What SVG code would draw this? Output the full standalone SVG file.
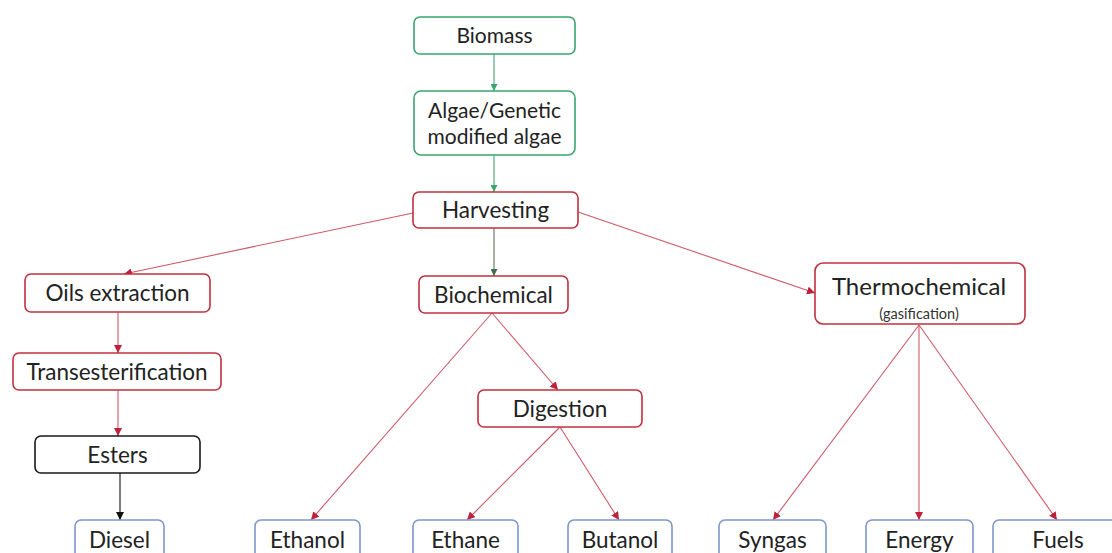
<svg xmlns="http://www.w3.org/2000/svg" width="1112" height="553" viewBox="0 0 1112 553">
<defs>
<style>
.box{fill:#ffffff;stroke-width:1.6}
.g{stroke:#3aa56f}
.r{stroke:#c0303f}
.k{stroke:#1a1a1a}
.b{stroke:#7f97cc}
.t{font-family:Lato,"Liberation Sans",sans-serif;font-size:22.5px;fill:#222;text-anchor:middle}
.s{font-family:Lato,"Liberation Sans",sans-serif;font-size:14.5px;fill:#333;text-anchor:middle}
.cg{stroke:#4fae80;stroke-width:1.2;fill:none;marker-end:url(#ag)}
.cr{stroke:#cf5a68;stroke-width:1.1;fill:none;marker-end:url(#ar)}
.cd{stroke:#6f7d70;stroke-width:1.2;fill:none;marker-end:url(#ad)}
.ck{stroke:#111;stroke-width:1.1;fill:none;marker-end:url(#ak)}
</style>
<marker id="ag" viewBox="0 0 10 10" refX="10" refY="5" markerWidth="7" markerHeight="7" markerUnits="userSpaceOnUse" orient="auto"><path d="M0,0L10,5L0,10z" fill="#3aa56f"/></marker>
<marker id="ar" viewBox="0 0 10 10" refX="10" refY="5" markerWidth="8" markerHeight="8" markerUnits="userSpaceOnUse" orient="auto"><path d="M0,0L10,5L0,10z" fill="#c0203a"/></marker>
<marker id="ad" viewBox="0 0 10 10" refX="10" refY="5" markerWidth="7" markerHeight="7" markerUnits="userSpaceOnUse" orient="auto"><path d="M0,0L10,5L0,10z" fill="#3f6e52"/></marker>
<marker id="ak" viewBox="0 0 10 10" refX="10" refY="5" markerWidth="8" markerHeight="8" markerUnits="userSpaceOnUse" orient="auto"><path d="M0,0L10,5L0,10z" fill="#111"/></marker>
</defs>
<rect width="1112" height="553" fill="#ffffff"/>
<g id="connectors">
<line class="cg" x1="494" y1="54" x2="494" y2="91"/>
<line class="cg" x1="494" y1="155" x2="494" y2="192"/>
<line class="cr" x1="413" y1="213" x2="124" y2="274"/>
<line class="cd" x1="494" y1="228" x2="494" y2="276"/>
<line class="cr" x1="578" y1="212" x2="815" y2="293"/>
<line class="cr" x1="118" y1="312" x2="118" y2="353"/>
<line class="cr" x1="118" y1="390" x2="118" y2="436"/>
<line class="ck" x1="120" y1="473" x2="120" y2="520"/>
<line class="cr" x1="492" y1="313" x2="311" y2="520"/>
<line class="cr" x1="492" y1="313" x2="558" y2="390"/>
<line class="cr" x1="560" y1="427" x2="467" y2="520"/>
<line class="cr" x1="560" y1="427" x2="619" y2="520"/>
<line class="cr" x1="919" y1="325" x2="773" y2="520"/>
<line class="cr" x1="919" y1="325" x2="919" y2="520"/>
<line class="cr" x1="919" y1="325" x2="1057" y2="520"/>
</g>
<g id="biomass"><rect class="box g" x="414" y="17" width="161" height="37" rx="6"/><text class="t" x="494.5" y="43" style="font-size:21px">Biomass</text></g>
<g id="algae"><rect class="box g" x="414" y="91" width="161" height="64" rx="7"/><text class="t" x="494.5" y="118" style="font-size:21px">Algae/Genetic</text><text class="t" x="494.5" y="144" style="font-size:21px">modified algae</text></g>
<g id="harvesting"><rect class="box r" x="413" y="192" width="165" height="36" rx="6"/><text class="t" x="495.5" y="218">Harvesting</text></g>
<g id="oils"><rect class="box r" x="25" y="274" width="185" height="38" rx="6"/><text class="t" x="117.5" y="301">Oils extraction</text></g>
<g id="trans"><rect class="box r" x="13" y="353" width="208" height="37" rx="6"/><text class="t" x="117" y="380">Transesterification</text></g>
<g id="esters"><rect class="box k" x="35" y="436" width="165" height="37" rx="6"/><text class="t" x="117.5" y="463">Esters</text></g>
<g id="biochemical"><rect class="box r" x="419" y="276" width="149" height="37" rx="6"/><text class="t" x="493.5" y="303">Biochemical</text></g>
<g id="digestion"><rect class="box r" x="478" y="390" width="164" height="37" rx="6"/><text class="t" x="560" y="417">Digestion</text></g>
<g id="thermo"><rect class="box r" x="815" y="263" width="210" height="61" rx="8"/><text class="t" x="919" y="295" style="font-size:24px">Thermochemical</text><text class="s" x="919" y="319">(gasification)</text></g>
<g id="diesel"><rect class="box b" x="75" y="520" width="89" height="45" rx="6"/><text class="t" x="119.5" y="548">Diesel</text></g>
<g id="ethanol"><rect class="box b" x="255" y="520" width="105" height="45" rx="6"/><text class="t" x="307.5" y="548">Ethanol</text></g>
<g id="ethane"><rect class="box b" x="413" y="520" width="105" height="45" rx="6"/><text class="t" x="465.5" y="548">Ethane</text></g>
<g id="butanol"><rect class="box b" x="568" y="520" width="104" height="45" rx="6"/><text class="t" x="620" y="548">Butanol</text></g>
<g id="syngas"><rect class="box b" x="719" y="520" width="107" height="45" rx="6"/><text class="t" x="772.5" y="548">Syngas</text></g>
<g id="energy"><rect class="box b" x="866" y="520" width="107" height="45" rx="6"/><text class="t" x="919.5" y="548">Energy</text></g>
<g id="fuels"><rect class="box b" x="993" y="520" width="130" height="45" rx="6"/><text class="t" x="1058" y="548">Fuels</text></g>
</svg>
